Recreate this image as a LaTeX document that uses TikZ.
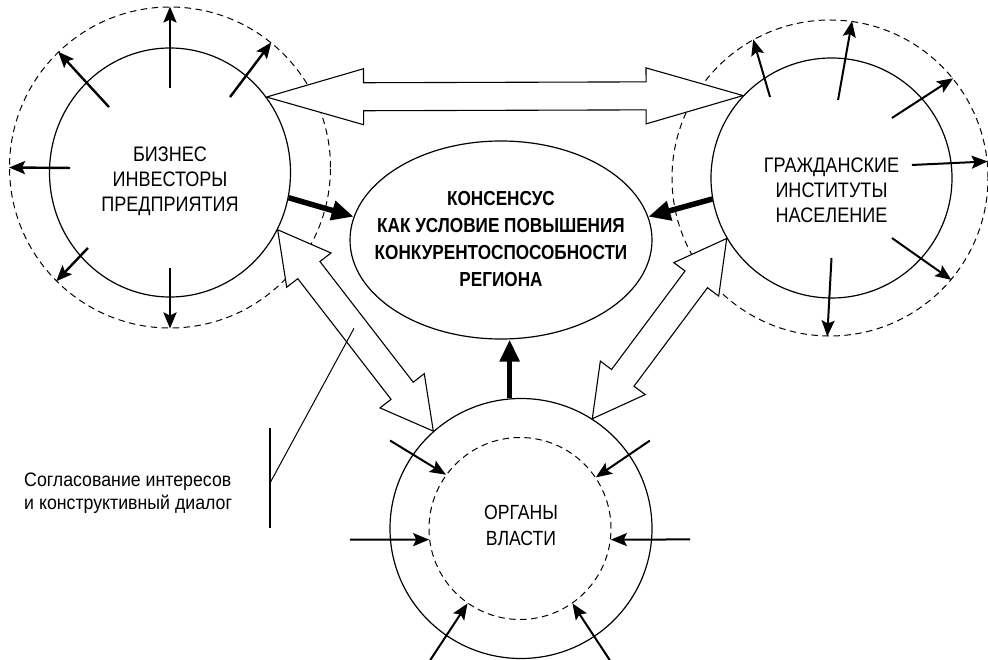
\documentclass[tikz,border=0pt]{standalone}
\usepackage{fontspec}
\setmainfont{Liberation Sans}[FakeStretch=0.86]
\newfontfamily\notefont{Liberation Sans}[FakeStretch=0.91]
\newfontfamily\consfont{Liberation Sans}[FakeStretch=0.845]
\usetikzlibrary{calc,arrows.meta,shapes.geometric}

% hollow double block arrow between two border points:
% #1 = first tip, #2 = second tip, #3 = head length
\newcommand\hollowarrow[3]{%
  \draw[hollow] (#1)
    -- ($(#1)!#3!(#2)!28pt!90:(#2)$)
    -- ($(#1)!#3!(#2)!14pt!90:(#2)$)
    -- ($(#2)!#3!(#1)!14pt!-90:(#1)$)
    -- ($(#2)!#3!(#1)!28pt!-90:(#1)$)
    -- (#2)
    -- ($(#2)!#3!(#1)!28pt!90:(#1)$)
    -- ($(#2)!#3!(#1)!14pt!90:(#1)$)
    -- ($(#1)!#3!(#2)!14pt!-90:(#2)$)
    -- ($(#1)!#3!(#2)!28pt!-90:(#2)$)
    -- cycle;}

\begin{document}
\begin{tikzpicture}[x=1pt,y=-1pt,
  ring/.style={circle, draw, dash pattern=on 6.5pt off 4.5pt, line width=1pt, inner sep=0pt},
  party/.style={ellipse, draw, line width=1.2pt, inner sep=0pt},
  spoke/.style={line width=#1, -{Stealth[length=16pt,width=13pt,inset=3pt]}},
  spoke/.default=2pt,
  push/.style={line width=5.5pt, -{Triangle[length=22pt,width=19pt]}},
  hollow/.style={draw, fill=white, line width=1.1pt, line join=miter},
  caps/.style={font=\fontsize{21}{25}\selectfont, align=center, inner sep=0pt},
  note/.style={font=\notefont\fontsize{19.5}{22.5}\selectfont, align=left, inner sep=0pt},
  consensus/.style={ellipse, draw, line width=1.2pt, inner sep=0pt,
    minimum width=302pt, minimum height=198pt},
  constext/.style={align=center, inner sep=0pt,
    font=\consfont\bfseries\fontsize{20.3}{27.3}\selectfont}
]
\useasboundingbox (0,0) rectangle (988,660);

% dashed rings of influence
\node[ring, minimum size=321pt] (bizring) at (170,167.5) {};
\node[ring, minimum size=316pt] (civring) at (830,178) {};
\node[ring, minimum size=182pt] (govring) at (520,528.5) {};

% the three parties and the consensus
\node[party, minimum width=241pt, minimum height=249pt] (biz) at (170,172.5) {};
\node[party, minimum width=241pt, minimum height=240pt] (civ) at (831.5,178) {};
\node[party, minimum width=262pt, minimum height=260pt] (gov) at (521,528.5) {};
\node[consensus] (cons) at (501,240) {};
\node[constext] (constext) at ([yshift=1pt]cons.center)
  {КОНСЕНСУС\\КАК УСЛОВИЕ ПОВЫШЕНИЯ\\КОНКУРЕНТОСПОСОБНОСТИ\\РЕГИОНА};

% outward spokes: business
\foreach \sa/\sd/\ea in {90/84.5pt/90, 51.5/96.4pt/51.8, 133/89.5pt/134.8,
    177.4/100pt/180, 222.6/111.5pt/225.7, 270/95.5pt/270}
  \draw[spoke=2.4pt] ($(biz.center)+(\sa:\sd)$) -- (bizring.\ea);

% outward spokes: civil institutions
\foreach \sa/\sd/\ea in {127.2/101.7pt/119.7, 85.2/78.3pt/82.9, 44.8/85.2pt/39.7,
    9.2/81.5pt/6.5, 315.2/85.2pt/320.2, 270/80pt/269}
  \draw[spoke=2pt] ($(civ.center)+(\sa:\sd)$) -- (civring.\ea);

% inward spokes: authorities
\foreach \sa/\sd/\ea in {146.1/157.8pt/144.8, 34.3/156pt/34.8, 183.7/171.4pt/187,
    356.3/169.4pt/353, 235.4/160pt/235.2, 304/159pt/305.8}
  \draw[spoke=2pt] ($(gov.center)+(\sa:\sd)$) -- (govring.\ea);

% dialogue between the parties
\hollowarrow{biz.38}{civ.137}{97pt}
\hollowarrow{biz.332}{gov.132}{51pt}
\hollowarrow{civ.210}{gov.57}{51pt}

% contributions to the consensus
\draw[push] (biz.348) -- (cons.171);
\draw[push] (civ.190) -- (cons.9);
\draw[push] (gov.95) -- (gov.95 |- cons.south);

% party names
\node[caps] (biztext) at ([yshift=-9pt]biz.center) {БИЗНЕС\\ИНВЕСТОРЫ\\ПРЕДПРИЯТИЯ};
\node[caps] (civtext) at ([yshift=-12pt]civ.center) {ГРАЖДАНСКИЕ\\ИНСТИТУТЫ\\НАСЕЛЕНИЕ};
\node[caps, font=\fontsize{20.5}{26}\selectfont] (govtext) at ([yshift=3pt]gov.center) {ОРГАНЫ\\ВЛАСТИ};

% callout
\node[note, anchor=north west] (note) at (24,473) {Согласование интересов\\и конструктивный диалог};
\coordinate (bartop) at (270,428);
\coordinate (barbot) at (270,528);
\draw[line width=2pt] (bartop) -- (barbot);
\draw[line width=1pt] ($(bartop)!0.55!(barbot)$) -- ($(biz.332)!0.49!(gov.132)$);
\end{tikzpicture}
\end{document}
